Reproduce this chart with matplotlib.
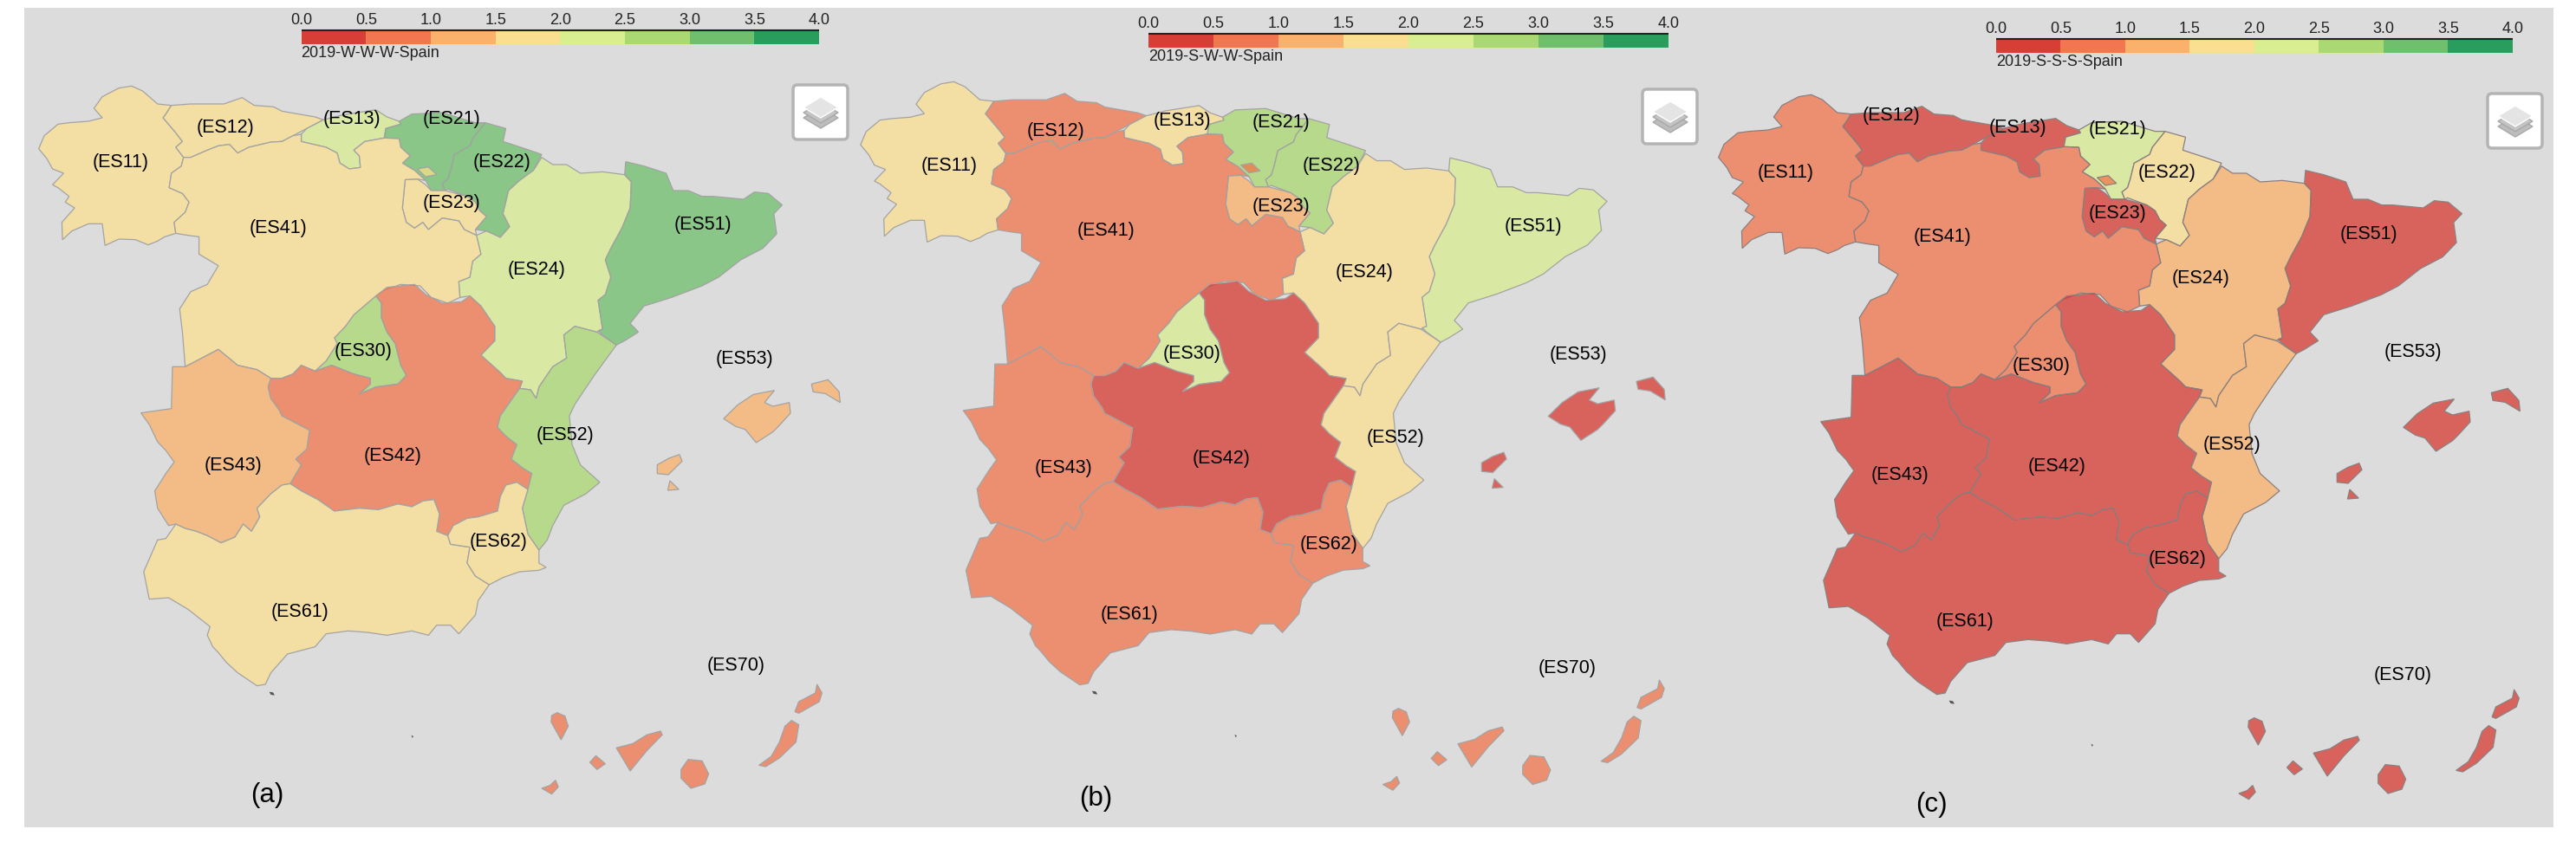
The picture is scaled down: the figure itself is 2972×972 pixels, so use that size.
import matplotlib
matplotlib.use('Agg')
import matplotlib.pyplot as plt
from matplotlib.colors import ListedColormap, BoundaryNorm
from matplotlib.patches import FancyBboxPatch, Polygon

plt.rcParams['font.family'] = ['Liberation Sans', 'DejaVu Sans']

# class colours of the legend, one class per 0.5
bins = [0.0, 0.5, 1.0, 1.5, 2.0, 2.5, 3.0, 3.5, 4.0]
class_colors = ['#d73027', '#f46d43', '#fdae61', '#fee08b', '#d9ef8b', '#a6d96a', '#66bd63', '#1a9850']
cmap = ListedColormap(class_colors)
norm = BoundaryNorm(bins, cmap.N)

regions = ['ES11', 'ES12', 'ES13', 'ES21', 'ES22', 'ES23', 'ES24', 'ES30', 'ES41',
           'ES42', 'ES43', 'ES51', 'ES52', 'ES53', 'ES61', 'ES62', 'ES70']
values_a = [1.7, 1.7, 2.2, 3.2, 3.2, 1.7, 2.2, 2.7, 1.7, 0.7, 1.2, 3.2, 2.7, 1.2, 1.7, 1.7, 0.7]
values_b = [1.7, 0.7, 1.7, 2.7, 2.7, 1.2, 1.7, 2.2, 0.7, 0.3, 0.7, 2.2, 1.7, 0.3, 0.7, 0.7, 0.7]
values_c = [0.7, 0.3, 0.3, 2.2, 1.7, 0.3, 1.2, 0.7, 0.7, 0.3, 0.3, 0.3, 1.2, 0.3, 0.3, 0.3, 0.3]

titles = ['2019-W-W-W-Spain', '2019-S-W-W-Spain', '2019-S-S-S-Spain']
panel_names = ['(a)', '(b)', '(c)']

# region outlines
ES11 = [(238,298),(258,315),(285,360),(310,365),(300,395),(295,408),(318,460),(330,490),(318,510),(332,545),
        (328,575),(310,600),(306,650),(330,670),(342,700),(335,735),(315,770),(318,808),(298,820),(285,835),
        (268,848),(245,830),(215,828),(190,850),(185,775),(160,775),(130,800),(113,830),(112,770),(135,720),
        (118,700),(125,680),(105,650),(95,640),(115,600),(95,585),(85,550),(70,515),(80,470),(105,430),(125,425),
        (160,420),(185,408),(170,375),(185,335),(215,305)]
ES12 = [(310,365),(345,360),(405,360),(438,338),(460,365),(495,370),(510,385),(570,405),(585,415),(555,445),
        (530,470),(510,490),(490,492),(450,510),(430,530),(415,500),(395,505),(375,520),(345,545),(332,545),
        (318,510),(330,490),(318,460),(295,408),(300,395)]
ES13 = [(585,415),(620,398),(680,380),(700,405),(722,420),(725,430),(698,445),(695,478),(660,490),(640,520),
        (650,540),(652,580),(632,585),(615,565),(610,530),(590,510),(545,490),(545,465),(555,445)]
ES21 = [(722,420),(745,395),(800,390),(860,425),(878,425),(855,480),(850,505),(822,535),(815,590),(810,620),
        (800,635),(805,660),(780,660),(770,625),(750,590),(728,565),(742,540),(725,510),(722,480),(695,478),
        (698,445),(725,430)]
ES22 = [(878,425),(915,445),(910,490),(950,515),(980,535),(965,590),(940,625),(920,660),(915,700),(910,740),
        (922,785),(905,822),(880,800),(860,795),(880,750),(868,730),(860,700),(845,680),(810,655),(805,660),
        (800,635),(810,620),(815,590),(822,535),(850,505),(855,480)]
ES23 = [(733,622),(755,620),(770,640),(780,660),(805,660),(845,680),(860,700),(868,730),(880,750),(860,795),
        (862,815),(840,795),(830,765),(800,755),(775,795),(765,770),(750,790),(735,770),(728,720)]
TREVINO = [(755,585),(775,578),(790,605),(770,612)]
ES41 = [(332,545),(345,545),(375,520),(395,505),(415,500),(430,530),(450,510),(490,492),(510,490),(530,470),
        (545,465),(545,490),(590,510),(610,530),(615,565),(632,585),(652,580),(650,540),(640,520),(660,490),
        (695,478),(722,480),(725,510),(742,540),(728,565),(750,590),(770,625),(755,620),(733,622),(728,720),
        (735,770),(750,790),(765,770),(775,795),(800,755),(830,765),(840,795),(862,815),(870,880),(855,905),
        (850,960),(830,975),(832,1030),(810,1050),(780,1030),(760,990),(725,985),(695,1005),(680,1025),(640,1090),
        (625,1130),(605,1170),(610,1190),(590,1250),(570,1285),(545,1265),(530,1295),(510,1310),(490,1310),(465,1280),
        (430,1265),(395,1210),(365,1240),(335,1270),(330,1150),(325,1070),(345,1010),(375,985),(395,920),(360,880),
        (360,820),(340,815),(318,808),(315,770),(335,735),(342,700),(330,670),(306,650),(310,600),(328,575)]
ES24 = [(980,545),(1000,570),(1025,570),(1050,600),(1090,595),(1130,605),(1142,630),(1140,720),(1125,790),(1105,860),
        (1095,900),(1105,960),(1095,1020),(1082,1040),(1090,1140),(1080,1150),(1040,1130),(1020,1160),(1025,1240),(1000,1270),
        (975,1340),(970,1380),(960,1350),(940,1345),(945,1320),(915,1310),(905,1290),(870,1230),(895,1180),(895,1130),
        (870,1060),(850,1025),(832,1030),(830,975),(850,960),(855,905),(870,880),(862,815),(880,800),(905,822),
        (922,785),(910,740),(915,700),(920,660),(940,625),(965,590)]
ES30 = [(680,1025),(690,1050),(690,1100),(700,1150),(715,1190),(725,1265),(735,1300),(720,1330),(680,1340),(650,1365),
        (670,1330),(670,1310),(640,1295),(600,1265),(570,1285),(590,1250),(610,1190),(605,1170),(625,1130),(640,1090)]
ES42 = [(680,1025),(700,995),(750,985),(770,1020),(800,1050),(835,1045),(850,1025),(870,1060),(895,1130),(895,1180),
        (870,1230),(905,1290),(915,1310),(945,1320),(940,1345),(905,1440),(900,1480),(915,1510),(935,1540),(925,1590),
        (945,1620),(962,1640),(955,1695),(935,1670),(915,1680),(905,1720),(900,1770),(865,1790),(845,1795),(820,1820),
        (810,1855),(790,1840),(795,1780),(785,1730),(765,1735),(745,1755),(720,1745),(685,1765),(650,1760),(605,1770),
        (575,1730),(545,1700),(525,1675),(545,1610),(535,1590),(555,1555),(560,1490),(510,1440),(505,1420),(490,1380),
        (485,1340),(490,1310),(510,1310),(530,1295),(545,1265),(570,1285),(600,1265),(640,1295),(670,1310),(670,1330),
        (650,1365),(680,1340),(720,1330),(735,1300),(725,1265),(715,1190),(700,1150),(690,1100),(690,1050)]
ES43 = [(395,1210),(430,1265),(465,1280),(490,1310),(485,1340),(490,1380),(505,1420),(510,1440),(560,1490),(555,1555),
        (535,1590),(545,1610),(525,1675),(510,1680),(490,1710),(465,1760),(470,1790),(455,1840),(440,1815),(425,1860),
        (400,1880),(375,1855),(355,1840),(335,1830),(318,1815),(305,1820),(285,1760),(280,1700),(300,1640),(315,1600),
        (300,1560),(285,1530),(270,1470),(255,1430),(310,1415),(312,1270),(335,1270),(365,1240)]
ES51 = [(1132,560),(1165,575),(1205,600),(1218,660),(1245,660),(1270,680),(1290,680),(1345,690),(1365,665),(1390,670),
        (1415,710),(1400,740),(1405,810),(1380,860),(1340,900),(1300,960),(1270,990),(1215,1030),(1165,1060),(1140,1120),
        (1155,1150),(1130,1180),(1115,1195),(1090,1160),(1082,1145),(1090,1140),(1082,1040),(1095,1020),(1105,960),(1095,900),
        (1105,860),(1125,790),(1140,720),(1142,630),(1130,605)]
ES52 = [(1040,1130),(1080,1150),(1115,1195),(1075,1300),(1040,1400),(1030,1440),(1035,1540),(1050,1610),(1085,1670),(1060,1710),
        (1020,1750),(1000,1820),(990,1870),(975,1905),(955,1850),(945,1760),(955,1695),(962,1640),(945,1620),(925,1590),
        (935,1540),(915,1510),(900,1480),(905,1440),(940,1345),(960,1350),(970,1380),(975,1340),(1000,1270),(1025,1240),
        (1020,1160)]
ES61 = [(525,1675),(545,1700),(575,1730),(605,1770),(650,1760),(685,1765),(720,1745),(745,1755),(765,1735),(785,1730),
        (795,1780),(790,1840),(810,1855),(815,1885),(850,1895),(845,1950),(860,1995),(885,2025),(865,2080),(860,2130),
        (830,2195),(815,2165),(790,2165),(775,2200),(745,2185),(700,2200),(665,2190),(630,2185),(590,2195),(570,2240),
        (520,2265),(490,2330),(480,2370),(465,2375),(430,2330),(410,2295),(395,2260),(385,2240),(375,2200),(380,2170),
        (340,2110),(305,2070),(270,2075),(260,1980),(285,1870),(300,1865),(318,1815),(335,1830),(355,1840),(375,1855),
        (400,1880),(425,1860),(440,1815),(455,1840),(470,1790),(465,1760),(490,1710),(510,1680)]
ES62 = [(935,1670),(955,1695),(945,1760),(955,1850),(975,1905),(975,1950),(988,1965),(975,1975),(940,1980),(910,2000),
        (885,2025),(860,1995),(845,1950),(850,1895),(815,1885),(810,1855),(820,1820),(845,1795),(865,1790),(900,1770),
        (905,1720),(915,1680)]
MALLORCA = [(1401,1352),(1383,1394),(1398,1407),(1428,1394),(1430,1431),(1408,1477),(1398,1496),(1368,1533),(1348,1487),
            (1331,1477),(1309,1450),(1334,1403),(1363,1366)]
MENORCA = [(1468,1330),(1498,1315),(1518,1357),(1520,1394),(1493,1363),(1471,1357)]
IBIZA = [(1229,1574),(1234,1597),(1209,1644),(1189,1640),(1189,1610),(1209,1588)]
FORMENTERA = [(1212,1665),(1228,1695),(1208,1698)]
LANZAROTE = [(1478,2370),(1487,2400),(1482,2430),(1445,2470),(1438,2465),(1445,2430),(1475,2400)]
FUERTEVENTURA = [(1432,2495),(1445,2510),(1440,2570),(1410,2625),(1385,2655),(1373,2650),(1395,2620),(1410,2570),(1420,2515)]
GRAN_CANARIA = [(1245,2630),(1270,2635),(1282,2680),(1275,2715),(1250,2730),(1232,2695),(1232,2665)]
TENERIFE = [(1195,2532),(1198,2545),(1170,2600),(1140,2670),(1115,2590),(1145,2575),(1170,2545)]
GOMERA = [(1078,2617),(1095,2645),(1080,2665),(1067,2640)]
LA_PALMA = [(1008,2468),(1022,2480),(1028,2515),(1015,2562),(997,2500),(998,2478)]
HIERRO = [(1005,2702),(1010,2725),(998,2750),(980,2730),(995,2720)]
CEUTA = [(487,2396),(494,2398),(497,2408),(490,2406)]
MELILLA = [(744,2546),(748,2550),(746,2556)]

outlines = {'ES11': [ES11], 'ES12': [ES12], 'ES13': [ES13], 'ES21': [ES21], 'ES22': [ES22], 'ES23': [ES23],
            'ES24': [ES24], 'ES30': [ES30], 'ES41': [ES41, TREVINO], 'ES42': [ES42], 'ES43': [ES43],
            'ES51': [ES51], 'ES52': [ES52], 'ES53': [MALLORCA, MENORCA, IBIZA, FORMENTERA], 'ES61': [ES61],
            'ES62': [ES62], 'ES70': [LANZAROTE, FUERTEVENTURA, GRAN_CANARIA, TENERIFE, GOMERA, LA_PALMA, HIERRO]}

# (x, y) of the region labels in pixels
labels_a = [(139,188),(260,148),(406,137),(521,138),(579,188),(521,234),(619,311),(419,405),(321,263),
            (453,526),(269,537),(811,259),(652,502),(859,414),(346,706),(575,625),(849,768)]
labels_b = [(1095,191),(1218,151),(1364,140),(1478,141),(1536,191),(1478,238),(1574,314),(1375,408),(1276,266),
            (1409,529),(1227,540),(1769,261),(1610,505),(1821,409),(1303,709),(1533,628),(1808,771)]
labels_c = [(2060,199),(2182,133),(2328,148),(2443,149),(2500,199),(2443,246),(2539,321),(2355,422),(2241,273),
            (2373,538),(2192,548),(2733,270),(2575,513),(2784,406),(2267,717),(2512,645),(2772,779)]
name_xy = [(308,918),(1264,922),(2228,929)]

# panel placement: map offset/scale, canary inset shift, colour bar box, layer button box
map_place = [(0, 0, 1.0, 1.0), (948, -5.5, 1.004, 1.0056), (1938, 10, 1.0, 1.0)]
canary_shift = [(0, 0), (20, -4), (20, -4)]
bar_place = [(347.6, 945, 35, 50.7), (1324.8, 1925, 39, 55), (2302.8, 2899, 45, 60.8)]
button_place = [(912, 95), (1892, 100), (2867, 105)]
edge_colors = ['#a3a3a3', '#a3a3a3', '#8a8080']

fig = plt.figure(figsize=(29.72, 9.72), dpi=100, facecolor='white')
ax = fig.add_axes([0, 0, 1, 1])
ax.set_xlim(0, 2972)
ax.set_ylim(972, 0)
ax.axis('off')

ax.add_patch(plt.Rectangle((28, 9), 2918, 946, fc='#dcdcdc', ec='none', zorder=0))


def draw_button(x, y):
    ax.add_patch(FancyBboxPatch((x + 3, y + 3), 63, 63, boxstyle='round,pad=0,rounding_size=5', mutation_aspect=1,
                                fc='white', ec='#b4b4b4', lw=2.5, zorder=5))
    cx = x + 35
    for off, col, edge in [(24, '#bdbdbd', '#a8a8a8'), (18, '#c4c4c4', '#a8a8a8'), (12, '#e4e4e4', '#c8c8c8')]:
        ax.add_patch(Polygon([(cx - 20, y + 17 + off), (cx, y + 5 + off), (cx + 20, y + 17 + off), (cx, y + 29 + off)],
                             fc=col, ec=edge if off != 12 else 'white', lw=1, zorder=6))


def draw_panel(i, values, labels):
    dx, dy, sx, sy = map_place[i]
    for name, val in zip(regions, values):
        col = cmap(norm(val))
        for poly in outlines[name]:
            ox, oy = canary_shift[i] if name == 'ES70' else (0, 0)
            xs = [p[0] / 1.568 * sx + dx + ox for p in poly]
            ys = [p[1] / 3 * sy + dy + oy for p in poly]
            ax.fill(xs, ys, fc=col[:3] + (0.7,), ec=edge_colors[i], lw=0.9, alpha=None, zorder=2)
    for poly in [CEUTA, MELILLA]:
        ax.fill([p[0] / 1.568 * sx + dx for p in poly], [p[1] / 3 * sy + dy for p in poly],
                fc='#555555', ec='none', zorder=2)
    for name, (lx, ly) in zip(regions, labels):
        ax.text(lx, ly, '(' + name + ')', fontsize=15.5, color='black', ha='center', va='center', zorder=4)

    # colour bar
    x0, x1, y0, y1 = bar_place[i]
    step = (x1 - x0) / (len(bins) - 1)
    ax.bar([x0 + k * step for k in range(len(class_colors))], [y1 - y0] * len(class_colors), width=step,
           bottom=y0, align='edge', color=class_colors, alpha=0.92, lw=0, zorder=3)
    ax.plot([x0, x1], [y0, y0], color='#222222', lw=1.5, zorder=4, solid_capstyle='butt')
    for k, b in enumerate(bins):
        ax.text(x0 + k * step, y0 - 11, '%.1f' % b, fontsize=13, color='#222222', ha='center', va='center', zorder=4)
    ax.text(x0, y1 + 10.5, titles[i], fontsize=13, color='#222222', ha='left', va='center', zorder=4)

    draw_button(*button_place[i])
    ax.text(name_xy[i][0], name_xy[i][1], panel_names[i], fontsize=22.5, color='black', ha='center', va='center', zorder=4)


draw_panel(0, values_a, labels_a)
draw_panel(1, values_b, labels_b)
draw_panel(2, values_c, labels_c)

fig.savefig('out.png', dpi=100)
